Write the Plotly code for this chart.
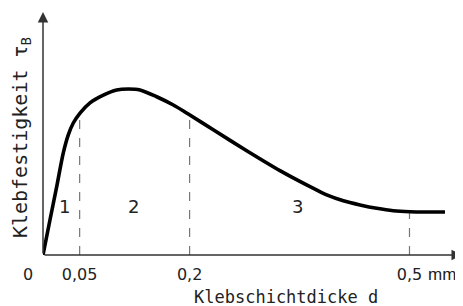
import plotly.graph_objects as go

# curve: adhesive strength vs. adhesive layer thickness
d_mm = [0, 0.0095, 0.0187, 0.0277, 0.0345, 0.0413, 0.0505, 0.0641, 0.0823,
        0.1005, 0.1164, 0.1323, 0.1551, 0.1778, 0.1982, 0.2323, 0.2779,
        0.3233, 0.3643, 0.387, 0.4097, 0.4325, 0.4553, 0.4779, 0.5007,
        0.5235, 0.5484]
tau_b = [0, 14.4, 28.1, 42.0, 49.4, 54.3, 58.4, 62.6, 65.8,
         67.9, 68.3, 67.9, 65.1, 61.7, 58.0, 51.5, 42.9,
         34.7, 28.1, 24.7, 22.3, 20.6, 19.2, 18.2, 17.8,
         17.7, 17.7]

# dashed boundaries between regions
bound_x = [0.05, 0.2, 0.5]
bound_top = [58.2, 57.6, 17.8]

# region labels
zone_labels = ["1", "2", "3"]
zone_x = [0.030, 0.123, 0.347]
zone_y = [19.9, 19.9, 19.9]

tick_vals = [0.05, 0.2, 0.5]
tick_text = ["0,05", "0,2", "0,5"]

X_MAX = 0.573
Y_MAX = 101.6

fig = go.Figure()

for bx, bt in zip(bound_x, bound_top):
    fig.add_trace(go.Scatter(x=[bx, bx], y=[0, bt], mode="lines",
                             line=dict(color="#777777", width=1.2, dash="dash"),
                             hoverinfo="skip"))

fig.add_trace(go.Scatter(x=d_mm, y=tau_b, mode="lines",
                         line=dict(color="black", width=3.6, shape="spline", smoothing=0.8),
                         hoverinfo="skip"))

annotations = []
# axis arrows
annotations.append(dict(x=0, y=100, ax=0, ay=0, xref="x", yref="y", axref="x", ayref="y",
                        showarrow=True, arrowhead=2, arrowsize=1.4, arrowwidth=1.5,
                        arrowcolor="#333333", text=""))
annotations.append(dict(x=0.5716, y=0, ax=0, ay=0, xref="x", yref="y", axref="x", ayref="y",
                        showarrow=True, arrowhead=2, arrowsize=1.4, arrowwidth=1.5,
                        arrowcolor="#333333", text=""))

for lab, zx, zy in zip(zone_labels, zone_x, zone_y):
    annotations.append(dict(x=zx, y=zy, xref="x", yref="y", text=lab, showarrow=False,
                            xanchor="center", yanchor="middle",
                            font=dict(family="DejaVu Sans", size=18, color="#222222")))

tick_font = dict(family="DejaVu Sans", size=16, color="#222222")
annotations.append(dict(x=-0.0357, y=-0.077, xref="paper", yref="paper", text="0",
                        showarrow=False, font=tick_font, yanchor="middle", xanchor="center"))
annotations.append(dict(x=0.912, y=-0.077, xref="paper", yref="paper", text="mm",
                        showarrow=False, yanchor="middle", xanchor="left",
                        font=dict(family="Liberation Sans, Arial", size=17, color="#222222")))

mono = "DejaVu Sans Mono"
annotations.append(dict(x=0.579, y=-0.17, xref="paper", yref="paper",
                        text="Klebschichtdicke d", showarrow=False,
                        xanchor="center", yanchor="middle",
                        font=dict(family=mono, size=17, color="#222222")))
annotations.append(dict(x=-0.052, y=0.474, xref="paper", yref="paper",
                        text="Klebfestigkeit τ<sub>B</sub>", textangle=-90, showarrow=False,
                        xanchor="center", yanchor="middle",
                        font=dict(family=mono, size=20, color="#222222")))

# page body has an 8px margin, so the figure is sized 8px smaller than the window
fig.update_layout(
    width=455, height=298, autosize=False,
    margin=dict(l=35, r=0, t=0, b=51),
    plot_bgcolor="white", paper_bgcolor="white",
    showlegend=False,
    annotations=annotations,
    xaxis=dict(range=[0, X_MAX], showgrid=False, zeroline=False, showline=False,
               tickvals=tick_vals, ticktext=tick_text, ticks="",
               ticklabelstandoff=8,
               tickfont=tick_font, fixedrange=True),
    yaxis=dict(range=[0, Y_MAX], showgrid=False, zeroline=False, showline=False,
               showticklabels=False, ticks="", fixedrange=True),
)

fig.write_html("out.html")
